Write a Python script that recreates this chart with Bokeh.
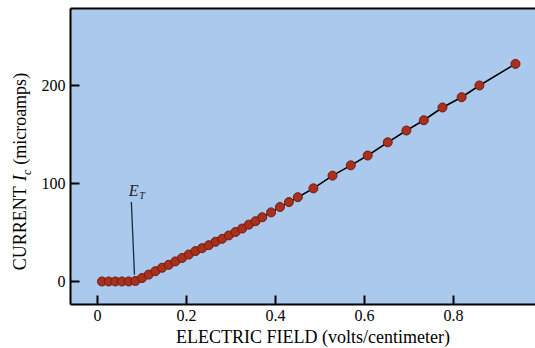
import numpy as np
from bokeh.plotting import figure
from bokeh.models import Range1d, FixedTicker, LinearAxis, Label, ColumnDataSource, BoxAnnotation
from bokeh.embed import file_html
from bokeh.resources import INLINE

# ---- data ----
field = [0.01, 0.025, 0.04, 0.055, 0.07, 0.085,
         0.10, 0.115, 0.13, 0.145, 0.16, 0.175, 0.19, 0.205, 0.22, 0.235,
         0.25, 0.265, 0.28, 0.295, 0.31, 0.325, 0.34, 0.355, 0.37, 0.39,
         0.41, 0.43, 0.45, 0.485, 0.528, 0.569, 0.607, 0.652, 0.694, 0.733,
         0.775, 0.818, 0.858, 0.939]
current = [0, 0, 0, 0, 0, 0.5,
           3.5, 7, 10.5, 14, 17, 20.5, 24, 27.5, 31, 34,
           37, 40.5, 43.5, 47, 50.5, 54, 58, 61.5, 65.5, 70.5,
           76, 81, 86, 95, 108, 118.5, 128.5, 142, 154, 164.5,
           177.5, 188, 200, 222]
threshold_field = 0.085
x_ticks = [0, 0.2, 0.4, 0.6, 0.8]
x_tick_labels = ["0", "0.2", "0.4", "0.6", "0.8"]
y_ticks = [0, 100, 200]
y_tick_labels = ["0", "100", "200"]

SERIF = "Liberation Serif"
BG = "#abc9ec"

# plotting box (data limits of the blue panel)
X0, X1 = -0.0607, 0.984
Y0, Y1 = -23.5, 278.6

p = figure(width=535, height=348, output_backend="svg", toolbar_location=None,
           x_range=Range1d(-0.218, 0.984), y_range=Range1d(-68.4, 286.7),
           min_border=0)
p.background_fill_color = "white"
p.border_fill_color = "white"
p.outline_line_color = None
p.grid.visible = False

p.add_layout(BoxAnnotation(left=X0, right=X1, bottom=Y0, top=Y1, fill_color=BG,
                           fill_alpha=1.0, line_color=None, level="underlay"))

xa, ya = p.xaxis[0], p.yaxis[0]
xa.fixed_location = Y0
ya.fixed_location = X0
xa.bounds = (X0, X1)
ya.bounds = (Y0, Y1)
for ax, ticks, labels in ((xa, x_ticks, x_tick_labels), (ya, y_ticks, y_tick_labels)):
    ax.ticker = FixedTicker(ticks=ticks)
    ax.major_label_overrides = {t: l for t, l in zip(ticks, labels)}
    ax.axis_line_color = "black"
    ax.axis_line_width = 2
    ax.major_tick_in = 9
    ax.major_tick_out = 0
    ax.major_tick_line_width = 2
    ax.minor_tick_line_color = None
    ax.major_label_text_font = SERIF
    ax.major_label_text_font_size = "16px"
    ax.major_label_text_color = "black"
xa.major_label_standoff = 6
ya.major_label_standoff = 5

top = LinearAxis(ticker=FixedTicker(ticks=[]), axis_line_width=2, axis_line_color="black",
                 major_tick_in=0, major_tick_out=0, minor_tick_line_color=None,
                 major_label_text_font_size="0px", major_label_standoff=0,
                 fixed_location=Y1, bounds=(X0, X1))
p.add_layout(top, "above")

src = ColumnDataSource(dict(x=field, y=current))
p.line("x", "y", source=src, line_color="black", line_width=1.6)
p.scatter("x", "y", source=src, size=9, fill_color="#a8301c", line_color="#6e1c10",
          line_width=1)

# threshold marker E_T
p.segment(x0=[threshold_field - 0.009], y0=[81], x1=[threshold_field - 0.002], y1=[7],
          line_color="#1a2a40", line_width=1.3)
p.add_layout(Label(x=threshold_field - 0.015, y=84.5, text="E", text_font=SERIF,
                   text_font_style="italic", text_font_size="16px", text_color="#1a2030"))
p.add_layout(Label(x=threshold_field + 0.009, y=82.5, text="T", text_font=SERIF,
                   text_font_style="italic", text_font_size="10px", text_color="#1a2030"))

# x axis label
p.add_layout(Label(x=0.484, y=-57.0, text="ELECTRIC FIELD (volts/centimeter)",
                   text_font=SERIF, text_font_size="18px", text_align="center",
                   text_baseline="alphabetic", text_color="black"))

# y axis label pieces (rotated)
ang = np.pi / 2
yx = -0.1525
p.add_layout(Label(x=yx, y=11.5, text="CURRENT", angle=ang, text_font=SERIF,
                   text_font_size="18px", text_color="black"))
p.add_layout(Label(x=yx, y=102.5, text="I", angle=ang, text_font=SERIF,
                   text_font_style="italic", text_font_size="18px", text_color="black"))
p.add_layout(Label(x=yx + 0.009, y=108.6, text="c", angle=ang, text_font=SERIF,
                   text_font_style="italic", text_font_size="12px", text_color="black"))
p.add_layout(Label(x=yx, y=119.0, text="(microamps)", angle=ang, text_font=SERIF,
                   text_font_size="18px", text_color="black"))

open("out.html", "w").write(file_html(p, INLINE))
